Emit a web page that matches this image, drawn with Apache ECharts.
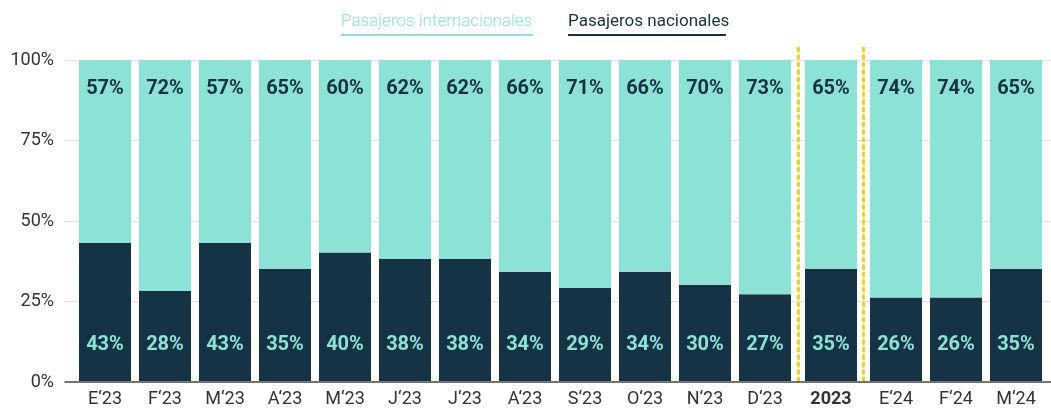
<!DOCTYPE html>
<html lang="es">
<head>
    <meta charset="UTF-8">
    <title>Pasajeros</title>
    <script src="https://cdn.jsdelivr.net/npm/echarts@6/dist/echarts.min.js"></script>
    <style>
        body { margin: 0; background: #fff; }
        #chart { width: 1051px; height: 408px; }
    </style>
</head>
<body>
    <div id="chart"></div>
    <script>
        // datos (% del total de pasajeros)
        var meses23 = ["E‘23", "F‘23", "M‘23", "A‘23", "M‘23", "J‘23", "J‘23", "A‘23", "S‘23", "O‘23", "N‘23", "D‘23"];
        var nac23 = [43, 28, 43, 35, 40, 38, 38, 34, 29, 34, 30, 27];
        var int23 = [57, 72, 57, 65, 60, 62, 62, 66, 71, 66, 70, 73];

        var anual = ["2023"];
        var nacAnual = [35];
        var intAnual = [65];

        var meses24 = ["E‘24", "F‘24", "M‘24"];
        var nac24 = [26, 26, 35];
        var int24 = [74, 74, 65];

        var yTicks = [0, 25, 50, 75, 100];

        var TEAL = '#8de2d6';
        var NAVY = '#163245';
        var F = 'Roboto, "Noto Sans", sans-serif';

        var myChart = echarts.init(document.getElementById('chart'));

        // grid 0 = marco (lineas guia y eje), grids 1-3 = barras
        var grids = [
            { left: 65, right: 0, top: 60, bottom: 26 },
            { left: 75, width: 720, top: 60, bottom: 26 },
            { left: 801, width: 60, top: 44, bottom: 26 },
            { left: 866, width: 180, top: 60, bottom: 26 }
        ];

        var xAxes = [{
            gridIndex: 0, type: 'value', min: 0, max: 1,
            axisLine: { show: true, lineStyle: { color: '#4a4a4a', width: 1.5 } },
            axisTick: { show: false }, axisLabel: { show: false }, splitLine: { show: false }
        }];
        var yAxes = [{
            gridIndex: 0, type: 'value', min: yTicks[0], max: yTicks[yTicks.length - 1], interval: 25,
            axisLine: { show: false }, axisTick: { show: false },
            axisLabel: { formatter: '{value}%', color: '#333', fontSize: 18, fontFamily: F, margin: 11 },
            splitLine: { lineStyle: { color: '#e2e2e2', width: 1 } }
        }];
        var series = [];

        function addGroup(g, cats, nac, intl, bold) {
            xAxes.push({
                gridIndex: g, type: 'category', data: cats,
                axisLine: { show: false }, axisTick: { show: false },
                axisLabel: { interval: 0, color: '#333', fontSize: 18, fontFamily: F, margin: 9,
                    fontWeight: bold ? 'bold' : 'normal' }
            });
            var xi = xAxes.length - 1;
            var yMax = g === 2 ? 105 : 100;
            yAxes.push({ gridIndex: g, type: 'value', min: 0, max: yMax, show: false });
            var yi = yAxes.length - 1;
            series.push({
                name: 'Pasajeros nacionales', type: 'bar', stack: 's' + g,
                xAxisIndex: xi, yAxisIndex: yi, barWidth: 52, data: nac,
                itemStyle: { color: NAVY },
                label: { show: true, position: 'insideBottom', distance: 26, formatter: '{c}%',
                    color: TEAL, fontSize: 20, fontWeight: 'bold', fontFamily: F }
            });
            series.push({
                name: 'Pasajeros internacionales', type: 'bar', stack: 's' + g,
                xAxisIndex: xi, yAxisIndex: yi, barWidth: 52, data: intl,
                itemStyle: { color: TEAL },
                label: { show: true, position: 'insideTop', distance: 19, formatter: '{c}%',
                    color: NAVY, fontSize: 20, fontWeight: 'bold', fontFamily: F }
            });
        }

        addGroup(1, meses23, nac23, int23, false);
        addGroup(2, anual, nacAnual, intAnual, true);
        addGroup(3, meses24, nac24, int24, false);

        // lineas punteadas amarillas alrededor del total 2023
        var dotted = { show: true, lineStyle: { color: '#f3d21a', width: 3, type: [3, 4.5] } };
        yAxes[2].show = true;
        yAxes[2].axisLine = dotted;
        yAxes[2].offset = 3;
        yAxes[2].axisTick = { show: false };
        yAxes[2].axisLabel = { show: false };
        yAxes[2].splitLine = { show: false };
        yAxes.push({
            gridIndex: 2, type: 'value', position: 'right', offset: 2, min: 0, max: 105,
            axisLine: dotted, axisTick: { show: false }, axisLabel: { show: false }, splitLine: { show: false }
        });

        myChart.setOption({
            animation: false,
            legend: {
                data: ['Pasajeros internacionales', 'Pasajeros nacionales'],
                left: 331, top: 8,
                itemWidth: 0, itemHeight: 0, itemGap: 30,
                formatter: function (name) {
                    return name === 'Pasajeros nacionales'
                        ? '{b|' + name + '}\n{ub|}'
                        : '{a|' + name + '}\n{ua|}';
                },
                textStyle: {
                    rich: {
                        a: { color: TEAL, fontSize: 17, fontFamily: F, fontWeight: 300, lineHeight: 23 },
                        b: { color: NAVY, fontSize: 17, fontFamily: F, fontWeight: 400, lineHeight: 23 },
                        ua: { backgroundColor: TEAL, width: 192, height: 2, lineHeight: 4 },
                        ub: { backgroundColor: NAVY, width: 158, height: 2, lineHeight: 4 }
                    }
                }
            },
            grid: grids,
            xAxis: xAxes,
            yAxis: yAxes,
            series: series
        });
    </script>
</body>
</html>
